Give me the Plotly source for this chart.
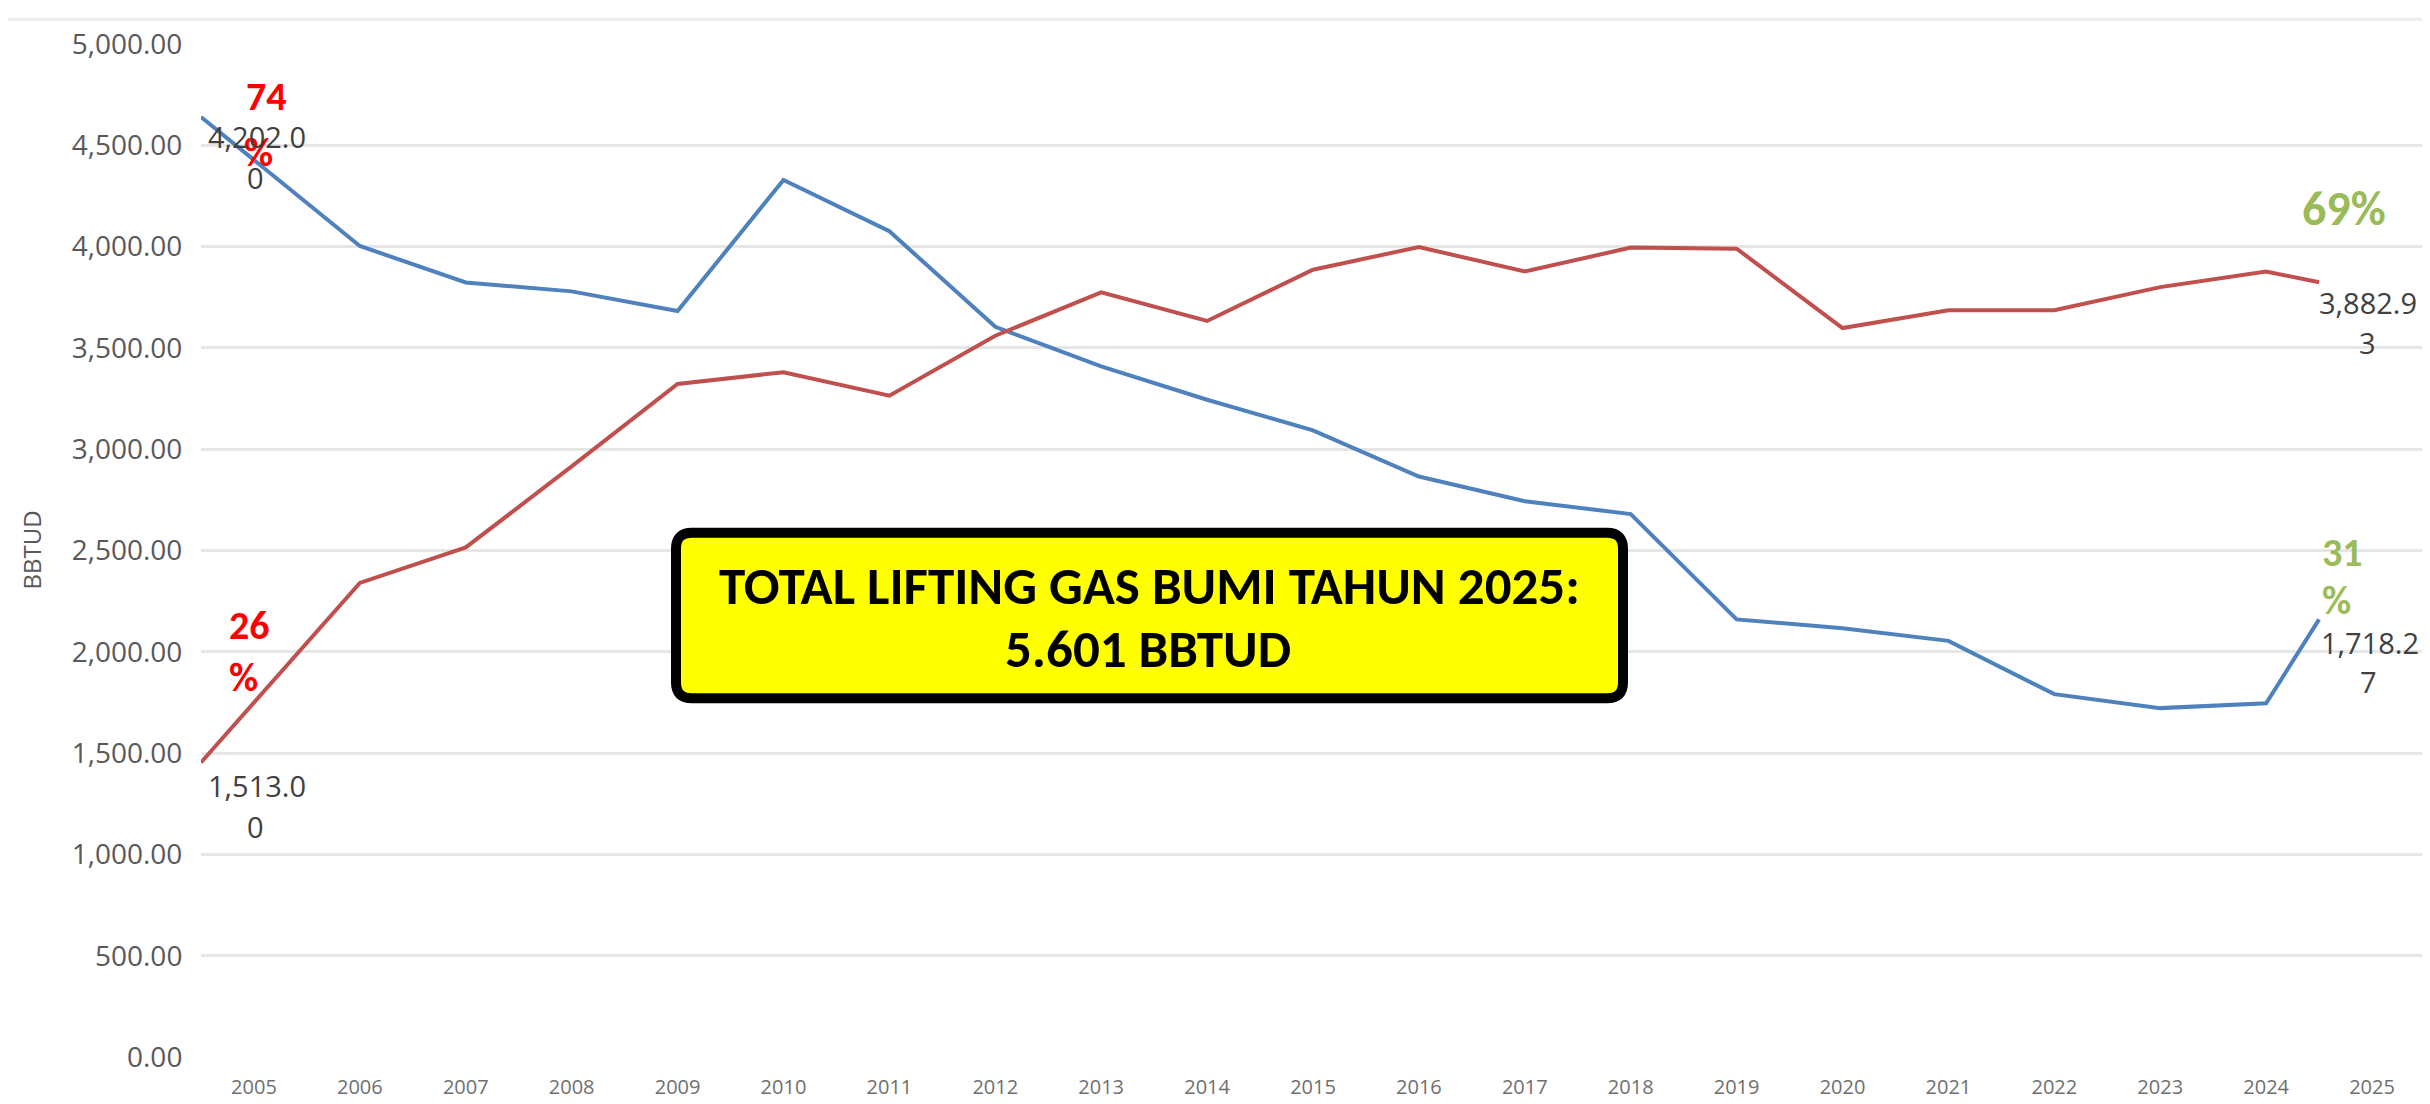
import plotly.graph_objects as go

# ---------------- data ----------------
years = list(range(2005, 2026))
year_labels = [str(y) for y in years]
# blue line (export share series)
ekspor = [4640, 4003, 3823, 3779, 3682, 4329, 4076, 3604, 3409, 3244, 3093,
          2865, 2743, 2680, 2160, 2116, 2054, 1791, 1722, 1746, 2160]
# red line (domestic share series)
domestik = [1454, 2340, 2515, 2915, 3322, 3380, 3264, 3560, 3774, 3633, 3886,
            3998, 3877, 3995, 3990, 3598, 3686, 3686, 3800, 3877, 3824]
y_ticks = [0, 500, 1000, 1500, 2000, 2500, 3000, 3500, 4000, 4500, 5000]

# ---------------- geometry ----------------
W, H = 2430, 1104
L, R, T, B = 193, 13, 36, 40
PW, PH = W - L - R, H - T - B

# the source chart draws the first and last point half a category to the left
x_plot = list(years)
x_plot[0] = years[0] - 0.5
x_plot[-1] = years[-1] - 0.5

BLUE = "#4F81BD"
RED = "#C0504D"
GREEN = "#9BBB59"
GRAY_LBL = "#404040"
TICK = "#595959"

fig = go.Figure()
fig.add_trace(go.Scatter(x=x_plot, y=ekspor, mode="lines", name="Ekspor",
                         line=dict(color=BLUE, width=4)))
fig.add_trace(go.Scatter(x=x_plot, y=domestik, mode="lines", name="Domestik",
                         line=dict(color=RED, width=4)))

def px_x(px):
    return (px - L) / PW

def px_y(py):
    return (H - B - py) / PH

annotations = []

def lab(text, xv, yv, xshift, yshift, color, size, bold=False, xanchor="left", family="Open Sans"):
    annotations.append(dict(
        x=xv, y=yv, xref="x", yref="y", text=("<b>%s</b>" % text) if bold else text,
        showarrow=False, xanchor=xanchor, yanchor="middle",
        xshift=xshift, yshift=yshift,
        font=dict(color=color, size=size, family=family)))

BOLDF = "Carlito, Lato, sans-serif"
PS = 40   # size of the percentage labels
DS = 29   # size of the value labels
# 2005 labels
lab("74", years[0], ekspor[0], -10, 20, "#FF0000", PS, True, family=BOLDF)
lab("%", years[0], ekspor[0], -12, -36, "#FF0000", PS, True, family=BOLDF)
lab("4,202.0", years[0], ekspor[0], -48, -20, GRAY_LBL, DS)
lab("0", years[0], ekspor[0], 2, -61, GRAY_LBL, DS, xanchor="center")
lab("26", years[0], domestik[0], -27, 137, "#FF0000", PS, True, family=BOLDF)
lab("%", years[0], domestik[0], -27, 85, "#FF0000", PS, True, family=BOLDF)
lab("1,513.0", years[0], domestik[0], -48, -23, GRAY_LBL, DS)
lab("0", years[0], domestik[0], 2, -64, GRAY_LBL, DS, xanchor="center")
# 2025 labels
lab("69%", years[-1], domestik[-1], -28, 74, GREEN, 48, True, xanchor="center", family=BOLDF)
lab("3,882.9", years[-1], domestik[-1], -55, -20, GRAY_LBL, DS)
lab("3", years[-1], domestik[-1], -5, -60, GRAY_LBL, DS, xanchor="center")
lab("31", years[-1], ekspor[-1], -52, 67, GREEN, PS, True, family=BOLDF)
lab("%", years[-1], ekspor[-1], -52, 19, GREEN, PS, True, family=BOLDF)
lab("1,718.2", years[-1], ekspor[-1], -53, -23, GRAY_LBL, DS)
lab("7", years[-1], ekspor[-1], -4, -62, GRAY_LBL, DS, xanchor="center")

# y axis title
annotations.append(dict(x=px_x(23), y=px_y(550), xref="paper", yref="paper",
                        text="BBTUD", textangle=-90, showarrow=False,
                        xanchor="center", yanchor="middle",
                        font=dict(color=TICK, size=24, family="Open Sans")))

# yellow callout text
annotations.append(dict(x=px_x(1141), y=px_y(586), xref="paper", yref="paper",
                        text="<b>TOTAL LIFTING GAS BUMI TAHUN 2025:</b>", showarrow=False,
                        xanchor="center", yanchor="middle",
                        font=dict(color="black", size=53, family=BOLDF)))
annotations.append(dict(x=px_x(1140), y=px_y(650), xref="paper", yref="paper",
                        text="<b>5.601 BBTUD</b>", showarrow=False,
                        xanchor="center", yanchor="middle",
                        font=dict(color="black", size=53, family=BOLDF)))

# rounded rectangle path for the callout (pixel -> paper)
x0p, x1p, y0p, y1p, r = 668, 1615, 532, 700, 16
def P(px, py):
    return "%.5f,%.5f" % (px_x(px), px_y(py))
path = ("M " + P(x0p + r, y0p) + " L " + P(x1p - r, y0p) +
        " Q " + P(x1p, y0p) + " " + P(x1p, y0p + r) +
        " L " + P(x1p, y1p - r) +
        " Q " + P(x1p, y1p) + " " + P(x1p - r, y1p) +
        " L " + P(x0p + r, y1p) +
        " Q " + P(x0p, y1p) + " " + P(x0p, y1p - r) +
        " L " + P(x0p, y0p + r) +
        " Q " + P(x0p, y0p) + " " + P(x0p + r, y0p) + " Z")

shapes = [
    dict(type="path", path=path, xref="paper", yref="paper",
         fillcolor="#FFFF00", line=dict(color="black", width=10), layer="above"),
    dict(type="line", xref="paper", yref="paper", x0=px_x(0), x1=px_x(W),
         y0=px_y(11), y1=px_y(11), line=dict(color="#EEEEEE", width=3)),
]

fig.update_layout(
    width=W, height=H,
    margin=dict(l=L, r=R, t=T, b=B, pad=0),
    paper_bgcolor="white", plot_bgcolor="white",
    showlegend=False,
    annotations=annotations,
    shapes=shapes,
    xaxis=dict(range=[years[0] - 0.5, years[-1] + 0.5], tickvals=years, ticktext=year_labels,
               showgrid=False, zeroline=False, showline=False,
               ticks="outside", ticklen=12, tickcolor="rgba(0,0,0,0)",
               tickfont=dict(size=20, color="#6f6f6f", family="Open Sans")),
    yaxis=dict(range=[0, 5000], tickvals=y_ticks, tickformat=",.2f",
               showgrid=True, gridcolor="#E6E6E6", gridwidth=2.5,
               zeroline=False, showline=False,
               ticks="outside", ticklen=12, tickcolor="rgba(0,0,0,0)",
               tickfont=dict(size=28, color=TICK, family="Open Sans")),
)

fig.write_html("out.html")
